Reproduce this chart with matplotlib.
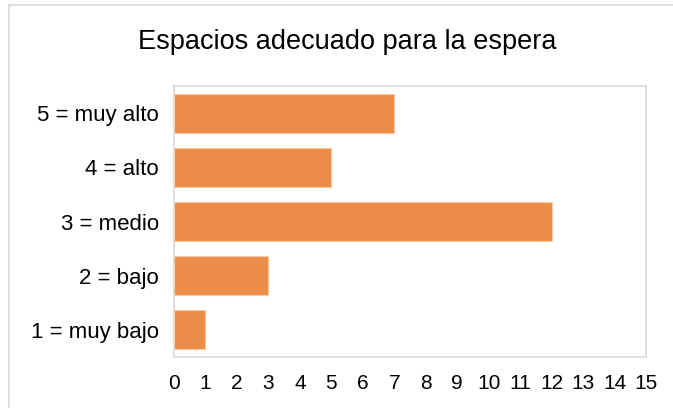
import matplotlib.pyplot as plt
from matplotlib.patches import Rectangle

# Data
categories = ['1 = muy bajo', '2 = bajo', '3 = medio', '4 = alto', '5 = muy alto']
values = [1, 3, 12, 5, 7]
x_ticks = list(range(0, 16))

plt.rcParams['font.family'] = ['Liberation Sans', 'DejaVu Sans']

W, H = 673, 408
fig = plt.figure(figsize=(W / 100, H / 100), dpi=100)

# outer chart border (partially cropped in the reference)
fig.patches.append(Rectangle((9 / W, -0.1), 1.2, 1 - 5 / H + 0.1,
                             transform=fig.transFigure, fill=False,
                             edgecolor='#d9d9d9', linewidth=1.2))

left, right, top, bottom = 174, 646, 86, 357
ax = fig.add_axes([left / W, 1 - bottom / H, (right - left) / W, (bottom - top) / H])

ax.barh(categories, values, height=0.72, color='#EC8D47',
        edgecolor='#f6c9a5', linewidth=0.8)

ax.set_xlim(0, 15)
ax.set_ylim(-0.5, 4.5)
ax.set_xticks(x_ticks)
ax.tick_params(axis='both', length=0, colors='#000000')
ax.tick_params(axis='x', labelsize=15, pad=12)
ax.tick_params(axis='y', labelsize=16, pad=11)

for s in ax.spines.values():
    s.set_color('#d9d9d9')
    s.set_linewidth(1.2)

fig.text(347 / W, 1 - 42 / H, 'Espacios adecuado para la espera',
         ha='center', va='center', fontsize=19.5)

fig.savefig('out.png', dpi=100)
